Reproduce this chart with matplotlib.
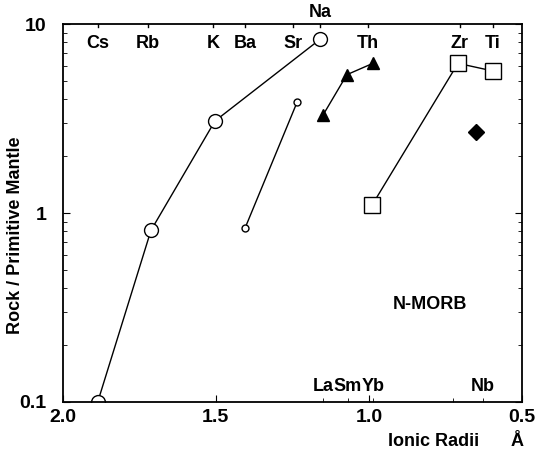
import matplotlib
matplotlib.use("Agg")
import matplotlib.pyplot as plt
from matplotlib.ticker import FixedLocator, NullFormatter, LogLocator

plt.rcParams['font.family'] = ['Liberation Sans', 'DejaVu Sans']
plt.rcParams['font.weight'] = 'bold'

# large cations (Cs, Rb, K, Na)
lil_x = [1.886, 1.712, 1.503, 1.160]
lil_y = [0.10, 0.81, 3.07, 8.3]
# Ba, Sr
alk_x = [1.405, 1.235]
alk_y = [0.83, 3.85]
# La, Sm, Yb (REE)
ree_x = [1.150, 1.072, 0.987]
ree_y = [3.3, 5.4, 6.2]
# Yb, Zr, Ti (HFSE)
hfs_x = [0.990, 0.709, 0.595]
hfs_y = [1.10, 6.2, 5.65]
# Nb
nb_x = [0.650]
nb_y = [2.68]

top_names = ['Cs', 'Rb', 'K', 'Ba', 'Sr', 'Th', 'Zr', 'Ti']
top_pos = [1.886, 1.722, 1.510, 1.405, 1.248, 1.003, 0.703, 0.595]
na_pos = 1.160
bot_names = ['La', 'Sm', 'Yb', 'Nb']
bot_pos = [1.150, 1.069, 0.987, 0.627]
bot_extra = [0.725]

fig = plt.figure(figsize=(5.37, 4.55), dpi=100)
ax = fig.add_axes([0.117, 0.1165, 0.855, 0.8305])

ax.plot(lil_x, lil_y, '-o', color='black', lw=1, ms=10, mfc='white', mec='black', mew=1)
ax.plot(alk_x, alk_y, '-o', color='black', lw=1, ms=5, mfc='white', mec='black', mew=1)
ax.plot(ree_x, ree_y, '-^', color='black', lw=1, ms=9, mfc='black')
ax.plot(hfs_x, hfs_y, '-s', color='black', lw=1, ms=11, mfc='white', mec='black', mew=1)
ax.plot(nb_x, nb_y, 'D', color='black', ms=8)

ax.set_yscale('log')
ax.set_ylim(0.1, 10)
ax.set_xlim(2.0, 0.5)

ax.yaxis.set_major_locator(FixedLocator([0.1, 1, 10]))
ax.set_yticklabels(['0.1', '1', '10'], fontsize=14, fontweight='bold')
ax.yaxis.set_minor_locator(LogLocator(base=10, subs=range(2, 10)))
ax.yaxis.set_minor_formatter(NullFormatter())
ax.tick_params(axis='y', which='both', direction='in', right=True, left=True)
ax.tick_params(axis='y', which='major', length=5, pad=12)
ax.tick_params(axis='y', which='minor', length=3)

ax.xaxis.set_major_locator(FixedLocator([2.0, 1.5, 1.0, 0.5]))
ax.set_xticklabels(['2.0', '1.5', '1.0', '0.5'], fontsize=14, fontweight='bold')
ax.xaxis.set_minor_locator(FixedLocator(bot_pos + bot_extra))
ax.tick_params(axis='x', which='both', direction='in', top=False, bottom=True)
ax.tick_params(axis='x', which='major', length=5, pad=5)
ax.tick_params(axis='x', which='minor', length=3)

for p in top_pos + [na_pos]:
    ax.plot([p, p], [10, 10 ** (1 - 0.015)], color='black', lw=1, clip_on=False)

for n, p in zip(top_names, top_pos):
    ax.text(p, 10 ** (1 - 0.1), n, ha='center', va='center', fontsize=13, fontweight='bold')
ax.text(na_pos, 10.4, 'Na', ha='center', va='bottom', fontsize=13, fontweight='bold')
for n, p in zip(bot_names, bot_pos):
    ax.text(p, 10 ** (-1 + 0.08), n, ha='center', va='center', fontsize=13, fontweight='bold')

ax.text(0.80, 0.33, 'N-MORB', ha='center', va='center', fontsize=13, fontweight='bold')

ax.set_ylabel('Rock / Primitive Mantle', fontsize=13, fontweight='bold')
ax.yaxis.set_label_coords(-0.085, 0.44)
fig.text(0.807, 0.03, 'Ionic Radii', ha='center', va='center', fontsize=13, fontweight='bold')
fig.text(0.963, 0.03, 'Å', ha='center', va='center', fontsize=13, fontweight='bold')

for s in ax.spines.values():
    s.set_linewidth(1.3)

fig.savefig('out.png', dpi=100)
